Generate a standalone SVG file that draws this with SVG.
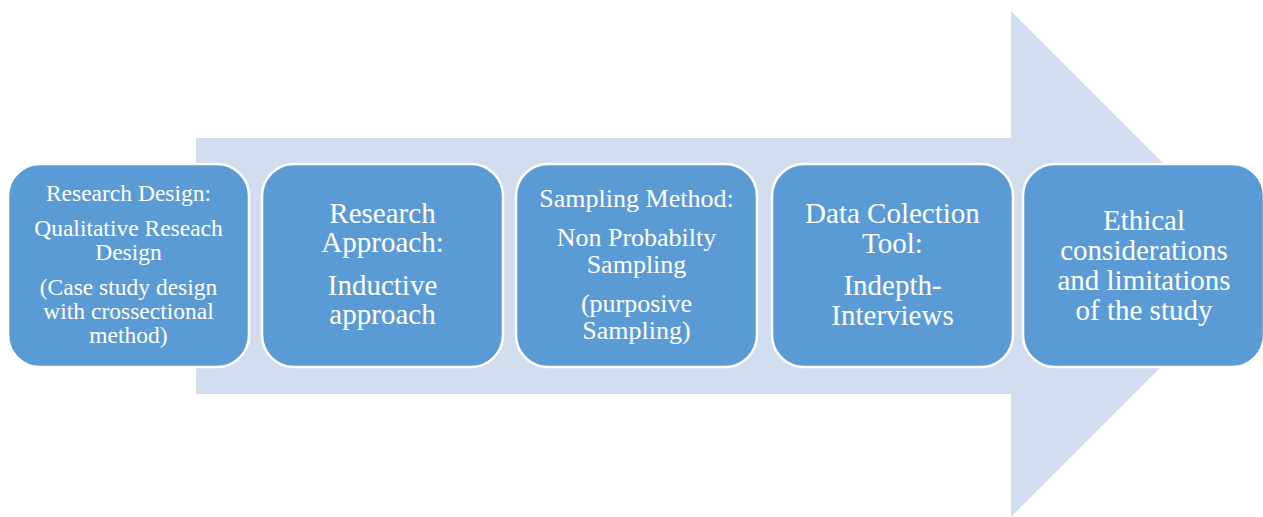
<svg xmlns="http://www.w3.org/2000/svg" width="1263" height="517" viewBox="0 0 1263 517">
<style>
.box{fill:#5B9BD5;stroke:#FFFFFF;stroke-width:2.5}
.t{font-family:"Liberation Serif","Times New Roman",serif;fill:#FFFFFF;text-anchor:middle}
</style>
<rect width="1263" height="517" fill="#FFFFFF"/>
<g id="arrow">
<polygon points="196,138 1011,138 1011,11 1264,264 1011,517 1011,394 196,394" fill="#D1DDEF"/>
</g>
<g id="connectors"></g>
<g id="node1">
<rect class="box" x="8" y="164" width="241" height="203" rx="32"/>
<text class="t" font-size="23.5" x="128.5"><tspan x="128.5" y="201">Research Design:</tspan><tspan x="128.5" y="236">Qualitative Reseach</tspan><tspan x="128.5" y="260">Design</tspan><tspan x="128.5" y="295">(Case study design</tspan><tspan x="128.5" y="319">with crossectional</tspan><tspan x="128.5" y="343">method)</tspan></text>
</g>
<g id="node2">
<rect class="box" x="262" y="164" width="241" height="203" rx="32"/>
<text class="t" font-size="29" x="382.5"><tspan x="382.5" y="223">Research</tspan><tspan x="382.5" y="252">Approach:</tspan><tspan x="382.5" y="295">Inductive</tspan><tspan x="382.5" y="324">approach</tspan></text>
</g>
<g id="node3">
<rect class="box" x="516" y="164" width="241" height="203" rx="32"/>
<text class="t" font-size="26" x="636.5"><tspan x="636.5" y="207">Sampling Method:</tspan><tspan x="636.5" y="246">Non Probabilty</tspan><tspan x="636.5" y="273">Sampling</tspan><tspan x="636.5" y="312">(purposive</tspan><tspan x="636.5" y="339">Sampling)</tspan></text>
</g>
<g id="node4">
<rect class="box" x="772" y="164" width="241" height="203" rx="32"/>
<text class="t" font-size="29" x="892.5"><tspan x="892.5" y="223">Data Colection</tspan><tspan x="892.5" y="253">Tool:</tspan><tspan x="892.5" y="295">Indepth-</tspan><tspan x="892.5" y="325">Interviews</tspan></text>
</g>
<g id="node5">
<rect class="box" x="1023" y="164" width="241" height="203" rx="32"/>
<text class="t" font-size="29" x="1144"><tspan x="1144" y="230">Ethical</tspan><tspan x="1144" y="260">considerations</tspan><tspan x="1144" y="290">and limitations</tspan><tspan x="1144" y="320">of the study</tspan></text>
</g>
</svg>
